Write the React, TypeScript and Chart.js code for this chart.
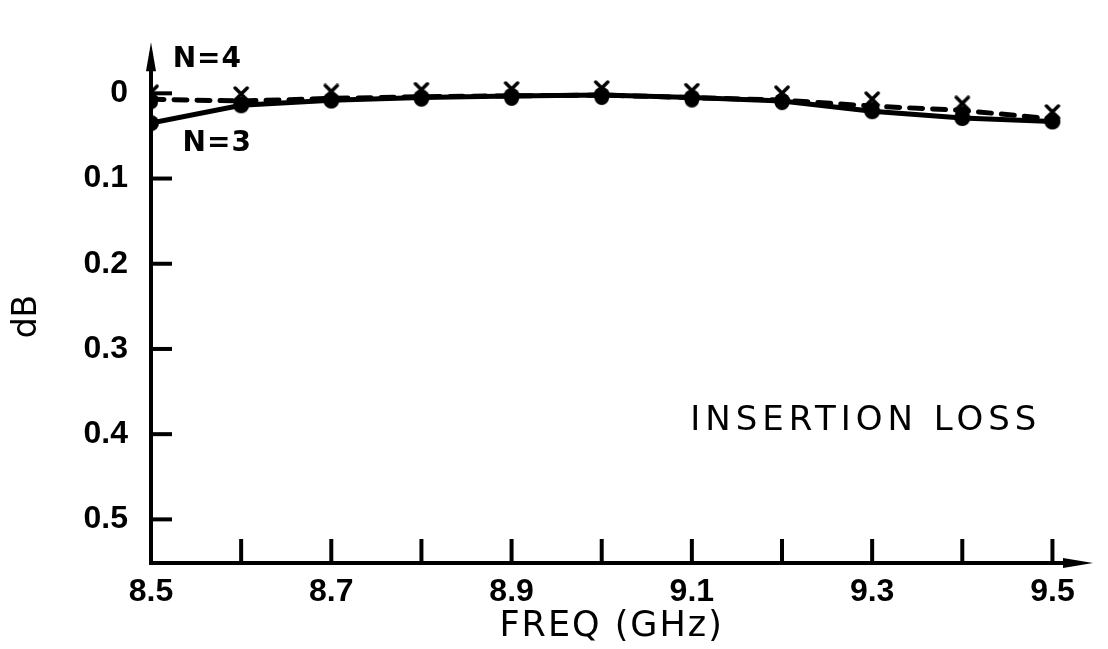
import React, { useEffect, useRef } from 'react';
import { Chart, registerables } from 'chart.js';

Chart.register(...registerables);

// ---- data ----
const frequencies = [8.5, 8.6, 8.7, 8.8, 8.9, 9.0, 9.1, 9.2, 9.3, 9.4, 9.5];
const lossN4 = [0.007, 0.009, 0.006, 0.004, 0.003, 0.002, 0.005, 0.008, 0.015, 0.02, 0.03];
const lossN3 = [0.035, 0.014, 0.008, 0.005, 0.003, 0.002, 0.005, 0.009, 0.021, 0.029, 0.033];
const yTickValues = [0, 0.1, 0.2, 0.3, 0.4, 0.5];
const xTickValues = [8.5, 8.6, 8.7, 8.8, 8.9, 9.0, 9.1, 9.2, 9.3, 9.4, 9.5];
const xLabelValues = [8.5, 8.7, 8.9, 9.1, 9.3, 9.5];
const seriesNames = ['N=4', 'N=3'];
const noteText = 'INSERTION LOSS';
const xTitle = 'FREQ (GHz)';
const yTitle = 'dB';

function makeDot(): HTMLCanvasElement {
  const c = document.createElement('canvas');
  c.width = 18;
  c.height = 18;
  const g = c.getContext('2d')!;
  g.fillStyle = '#000';
  g.beginPath();
  g.arc(9, 9, 8, 0, Math.PI * 2);
  g.fill();
  return c;
}

function makeCrossBlob(): HTMLCanvasElement {
  const c = document.createElement('canvas');
  c.width = 20;
  c.height = 30;
  const g = c.getContext('2d')!;
  g.strokeStyle = '#000';
  g.fillStyle = '#000';
  g.lineWidth = 3.5;
  g.lineCap = 'round';
  g.beginPath();
  g.moveTo(4, 2);
  g.lineTo(16, 14);
  g.moveTo(16, 2);
  g.lineTo(4, 14);
  g.stroke();
  g.beginPath();
  g.arc(10, 18, 7, 0, Math.PI * 2);
  g.fill();
  return c;
}

const decor = {
  id: 'decor',
  afterDatasetsDraw(chart: any) {
    const { ctx, chartArea: a, scales } = chart;
    const xs = scales.x;
    const ys = scales.y;
    ctx.save();
    ctx.strokeStyle = '#000';
    ctx.fillStyle = '#000';
    ctx.lineWidth = 4;
    const x0 = xs.getPixelForValue(8.5);
    const yb = a.bottom;
    // y axis with arrow
    ctx.beginPath();
    ctx.moveTo(x0, yb + 2);
    ctx.lineTo(x0, a.top + 20);
    ctx.stroke();
    ctx.beginPath();
    ctx.moveTo(x0, a.top);
    ctx.lineTo(x0 - 5, a.top + 29);
    ctx.lineTo(x0 + 5, a.top + 29);
    ctx.closePath();
    ctx.fill();
    // x axis with arrow
    ctx.beginPath();
    ctx.moveTo(x0 - 2, yb);
    ctx.lineTo(a.right - 20, yb);
    ctx.stroke();
    ctx.beginPath();
    ctx.moveTo(a.right, yb);
    ctx.lineTo(a.right - 30, yb - 5);
    ctx.lineTo(a.right - 30, yb + 5);
    ctx.closePath();
    ctx.fill();
    // tick marks
    ctx.lineWidth = 4;
    yTickValues.forEach((v) => {
      const py = ys.getPixelForValue(v);
      ctx.beginPath();
      ctx.moveTo(x0, py);
      ctx.lineTo(x0 + 21, py);
      ctx.stroke();
    });
    xTickValues.forEach((v) => {
      if (v === 8.5) return;
      const px = xs.getPixelForValue(v);
      ctx.beginPath();
      ctx.moveTo(px, yb);
      ctx.lineTo(px, yb - 24);
      ctx.stroke();
    });
    // series annotations
    ctx.textBaseline = 'middle';
    ctx.textAlign = 'left';
    ctx.font = 'bold 28px "DejaVu Sans"';
    (ctx as any).letterSpacing = '1px';
    ctx.fillText(seriesNames[0], xs.getPixelForValue(8.524), ys.getPixelForValue(-0.04));
    ctx.fillText(seriesNames[1], xs.getPixelForValue(8.535), ys.getPixelForValue(0.059));
    // note
    ctx.font = '34px "DejaVu Sans"';
    (ctx as any).letterSpacing = '5px';
    ctx.textAlign = 'center';
    ctx.fillText(noteText, xs.getPixelForValue(9.293), ys.getPixelForValue(0.385));
    // axis titles
    ctx.font = '35px "DejaVu Sans"';
    (ctx as any).letterSpacing = '2px';
    ctx.fillText(xTitle, xs.getPixelForValue(9.011), yb + 64);
    (ctx as any).letterSpacing = '0px';
    ctx.save();
    ctx.translate(27, ys.getPixelForValue(0.262));
    ctx.rotate(-Math.PI / 2);
    ctx.font = '33px "DejaVu Sans"';
    ctx.fillText(yTitle, 0, 0);
    ctx.restore();
    ctx.restore();
  },
};

export default function App() {
  const ref = useRef<HTMLCanvasElement>(null);
  useEffect(() => {
    document.body.style.margin = '0';
    const dot = makeDot();
    const cross = makeCrossBlob();
    const chart = new Chart(ref.current!, {
      type: 'line',
      data: {
        datasets: [
          {
            label: seriesNames[0],
            data: frequencies.map((f, i) => ({ x: f, y: lossN4[i] })),
            borderColor: '#000',
            backgroundColor: '#000',
            borderWidth: 5,
            borderDash: [13, 10],
            borderCapStyle: 'round',
            pointStyle: cross as any,
            pointRadius: 10,
            tension: 0,
          },
          {
            label: seriesNames[1],
            data: frequencies.map((f, i) => ({ x: f, y: lossN3[i] })),
            borderColor: '#000',
            backgroundColor: '#000',
            borderWidth: 5,
            borderCapStyle: 'round',
            pointStyle: dot as any,
            pointRadius: 9,
            tension: 0,
          },
        ],
      },
      options: {
        responsive: false,
        animation: false,
        layout: { padding: { top: 14, right: 2, left: 0, bottom: 0 } },
        plugins: { legend: { display: false }, tooltip: { enabled: false } },
        scales: {
          x: {
            type: 'linear',
            min: 8.5,
            max: 9.545,
            afterBuildTicks: (s: any) => {
              s.ticks = xTickValues.map((v) => ({ value: v }));
            },
            afterFit: (s: any) => {
              s.height = 86;
            },
            grid: { display: false, drawTicks: false },
            border: { display: false },
            ticks: {
              autoSkip: false,
              maxRotation: 0,
              padding: 10,
              color: '#000',
              font: { family: 'Liberation Sans', size: 32, weight: 'bold' },
              callback: (v: any) =>
                xLabelValues.some((l) => Math.abs(l - v) < 1e-6) ? Number(v).toFixed(1) : '',
            },
            title: { display: false },
          },
          y: {
            type: 'linear',
            reverse: true,
            min: -0.06,
            max: 0.5512,
            afterBuildTicks: (s: any) => {
              s.ticks = yTickValues.map((v) => ({ value: v }));
            },
            afterFit: (s: any) => {
              s.width = 151;
            },
            grid: { display: false, drawTicks: false },
            border: { display: false },
            ticks: {
              autoSkip: false,
              padding: 23,
              color: '#000',
              font: { family: 'Liberation Sans', size: 32, weight: 'bold' },
              callback: (v: any) => (Number(v) === 0 ? '0' : Number(v).toFixed(1)),
            },
            title: { display: false },
          },
        },
      },
      plugins: [decor],
    });
    return () => chart.destroy();
  }, []);
  return <canvas ref={ref} width={1108} height={649} style={{ display: 'block' }} />;
}
